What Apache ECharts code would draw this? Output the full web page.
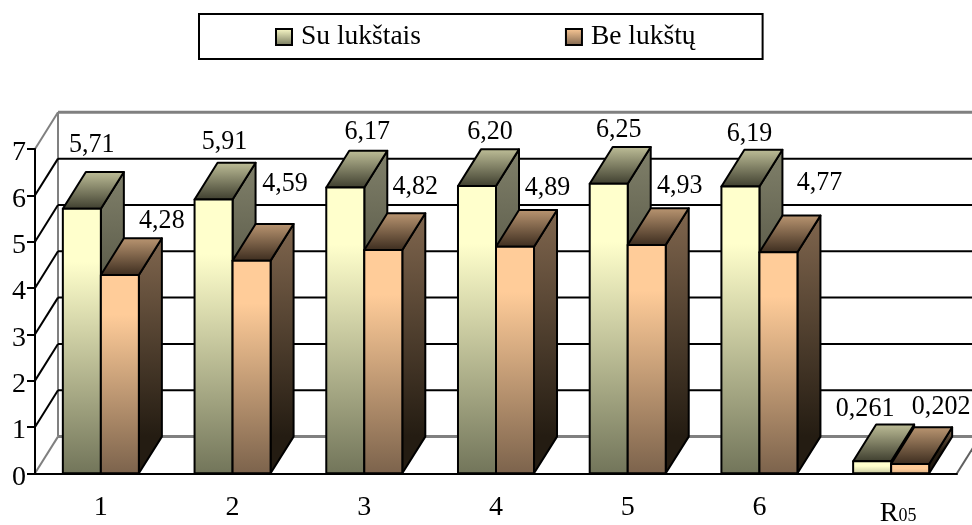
<!DOCTYPE html>
<html>
<head>
<meta charset="utf-8">
<style>html,body{margin:0;padding:0;background:#fff}#chart{width:972px;height:525px}</style>
<script src="https://cdn.jsdelivr.net/npm/echarts@6/dist/echarts.min.js"></script>
</head>
<body>
<div id="chart"></div>
<script>
// Husk yield comparison, six treatments plus the least significant difference
const categories = ['1', '2', '3', '4', '5', '6', 'R05'];
const suLukstais = [5.71, 5.91, 6.17, 6.20, 6.25, 6.19, 0.261];
const beLukstu = [4.28, 4.59, 4.82, 4.89, 4.93, 4.77, 0.202];
const suLabels = ['5,71', '5,91', '6,17', '6,20', '6,25', '6,19', '0,261'];
const beLabels = ['4,28', '4,59', '4,82', '4,89', '4,93', '4,77', '0,202'];
const yTicks = [0, 1, 2, 3, 4, 5, 6, 7];

// Hand placement of the value labels, measured from each bar's top front edge
const suLabelShift = [[10, -64], [11, -58], [22, -56], [13, -54], [10, -54], [9, -52.5], [-7, -53]];
const beLabelShift = [[42, -54], [33.5, -76.6], [32, -63], [32.5, -59], [33, -59], [41, -70], [31, -57]];

// Oblique projection of the chart's depth axis
const DEPTH_X = 23;
const DEPTH_Y = -36.7;
const BAR_SHARE = 0.2886;
const MIN_SHADE_SPAN = 24;
const FONT = '"Liberation Serif", "Times New Roman", serif';

const palettes = {
  su: { front: ['#ffffcc', '#72755a'], side: ['#80806a', '#26261a'], top: ['#bcbc96', '#404030'] },
  be: { front: ['#ffcc99', '#7c634c'], side: ['#80664e', '#241c12'], top: ['#b89470', '#3e2e20'] }
};

function vertical(y0, y1, pair, hold) {
  return new echarts.graphic.LinearGradient(0, y0, 0, y1, [
    { offset: 0, color: pair[0] }, { offset: hold || 0, color: pair[0] }, { offset: 1, color: pair[1] }
  ], true);
}

function poly(points, fill) {
  return {
    type: 'polygon',
    shape: { points },
    style: { fill, stroke: '#000', lineWidth: 2, lineJoin: 'round' }
  };
}

function barRenderer(palette, labels, shifts, slot) {
  return function (params, api) {
    const i = api.value(0);
    const top = api.coord([i, api.value(1)]);
    const base = api.coord([i, 0]);
    const w = api.size([1, 0])[0] * BAR_SHARE;
    const x0 = top[0] + slot * w;
    const x1 = x0 + w;
    const yt = top[1];
    const yb = base[1];
    const shadeEnd = yt + Math.max(yb - yt, MIN_SHADE_SPAN);
    const shift = shifts[i];
    return {
      type: 'group',
      children: [
        poly([[x1, yt], [x1 + DEPTH_X, yt + DEPTH_Y], [x1 + DEPTH_X, yb + DEPTH_Y], [x1, yb]],
          vertical(yt + DEPTH_Y, shadeEnd + DEPTH_Y, palette.side)),
        poly([[x0, yt], [x0 + DEPTH_X, yt + DEPTH_Y], [x1 + DEPTH_X, yt + DEPTH_Y], [x1, yt]],
          vertical(yt + DEPTH_Y, yt, palette.top)),
        poly([[x0, yt], [x1, yt], [x1, yb], [x0, yb]],
          vertical(yt, shadeEnd, palette.front, 0.2)),
        {
          type: 'text',
          z2: 50,
          x: (x0 + x1) / 2 + shift[0],
          y: yt + shift[1],
          scaleX: 0.93,
          style: {
            text: labels[i],
            x: 0,
            y: 0,
            align: 'center',
            verticalAlign: 'middle',
            font: '28px ' + FONT,
            fill: '#000'
          }
        }
      ]
    };
  };
}

// Back wall, side wall and floor of the box behind the bars
function wallRenderer(params, api) {
  const left = api.coord([0, 0])[0] - api.size([1, 0])[0] / 2;
  const right = left + api.size([1, 0])[0] * categories.length;
  const children = [];
  const line = (x1, y1, x2, y2, stroke, lineWidth) => children.push({
    type: 'line',
    shape: { x1, y1, x2, y2 },
    style: { stroke, lineWidth }
  });
  const yMin = api.coord([0, yTicks[0]])[1];
  const yMax = api.coord([0, yTicks[yTicks.length - 1]])[1];
  line(left + DEPTH_X, yMin + DEPTH_Y, left + DEPTH_X, yMax + DEPTH_Y, '#808080', 2);
  yTicks.forEach((tick, n) => {
    const y = api.coord([0, tick])[1];
    const edge = n === 0 || n === yTicks.length - 1;
    const stroke = edge ? '#808080' : '#000';
    const width = edge ? 3 : 2;
    line(left, y, left + DEPTH_X, y + DEPTH_Y, stroke, 2);
    line(left + DEPTH_X, y + DEPTH_Y, right + DEPTH_X, y + DEPTH_Y, stroke, width);
  });
  line(right, yMin, right + DEPTH_X, yMin + DEPTH_Y, '#606060', 2);
  return { type: 'group', children };
}

function swatch(pair) {
  return {
    color: new echarts.graphic.LinearGradient(0, 0, 0, 1, [
      { offset: 0, color: pair[0] }, { offset: 1, color: pair[1] }
    ]),
    borderColor: '#000',
    borderWidth: 2
  };
}

const chart = echarts.init(document.getElementById('chart'), null, { renderer: 'canvas' });
chart.setOption({
  animation: false,
  backgroundColor: '#fff',
  textStyle: { fontFamily: FONT },
  legend: {
    left: 199,
    top: 14,
    padding: [9, 67, 8, 76],
    itemGap: 144,
    itemWidth: 16,
    itemHeight: 16,
    borderColor: '#000',
    borderWidth: 2,
    icon: 'rect',
    textStyle: { fontFamily: FONT, fontSize: 27.5, color: '#000', padding: [0, 0, 0, 4] },
    data: [
      { name: 'Su lukštais', itemStyle: swatch(palettes.su.front) },
      { name: 'Be lukštų', itemStyle: swatch(palettes.be.front) }
    ]
  },
  grid: { left: 35, top: 149, width: 922, height: 324.3, outerBoundsMode: 'none' },
  xAxis: {
    type: 'category',
    data: categories,
    z: 5,
    axisLine: { lineStyle: { color: '#000', width: 2 } },
    axisTick: { length: 7, lineStyle: { color: '#000', width: 2 }, alignWithLabel: false },
    splitLine: { show: false },
    axisLabel: {
      margin: 20,
      fontFamily: FONT,
      fontSize: 28,
      color: '#000',
      interval: 0,
      formatter: v => v === 'R05' ? '{base|R}{sub|05}' : v,
      rich: {
        base: { fontFamily: FONT, fontSize: 28, color: '#000', padding: [6, 0, 0, 14] },
        sub: { fontFamily: FONT, fontSize: 18, color: '#000', padding: [12, 0, 0, 0] }
      }
    }
  },
  yAxis: {
    type: 'value',
    min: 0,
    max: 7,
    interval: 1,
    z: 5,
    axisLine: { show: true, lineStyle: { color: '#000', width: 2 } },
    axisTick: { show: true, length: 8, lineStyle: { color: '#000', width: 2 } },
    splitLine: { show: false },
    axisLabel: {
      margin: 9,
      color: '#000',
      formatter: v => '{v|' + v + '}',
      rich: { v: { fontFamily: FONT, fontSize: 28, color: '#000', padding: [8, 0, 0, 0] } }
    }
  },
  series: [
    {
      type: 'custom',
      name: 'siena',
      silent: true,
      clip: false,
      z: 1,
      renderItem: wallRenderer,
      data: [[0, 0]],
      encode: { x: 0, y: 1 }
    },
    {
      type: 'custom',
      name: 'Su lukštais',
      clip: false,
      z: 3,
      renderItem: barRenderer(palettes.su, suLabels, suLabelShift, -1),
      data: suLukstais.map((v, i) => [i, v]),
      encode: { x: 0, y: 1 }
    },
    {
      type: 'custom',
      name: 'Be lukštų',
      clip: false,
      z: 4,
      renderItem: barRenderer(palettes.be, beLabels, beLabelShift, 0),
      data: beLukstu.map((v, i) => [i, v]),
      encode: { x: 0, y: 1 }
    }
  ]
});
</script>
</body>
</html>
